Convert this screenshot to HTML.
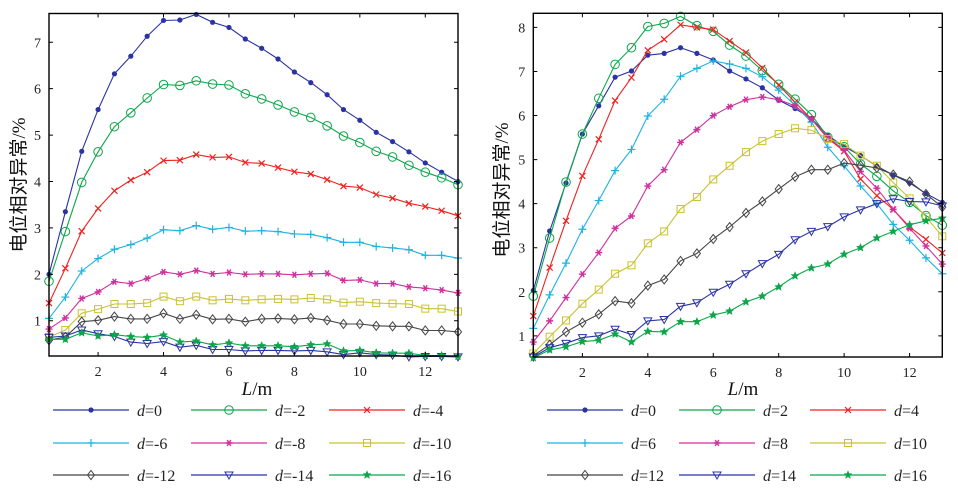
<!DOCTYPE html>
<html><head><meta charset="utf-8"><style>
html,body{margin:0;padding:0;background:#fff;}
svg{display:block;font-family:"Liberation Serif","Noto Serif CJK SC",serif;}
</style></head><body>
<svg id="chart" width="958" height="489" viewBox="0 0 958 489"></svg>
<script>
const xValues = [0.5,1,1.5,2,2.5,3,3.5,4,4.5,5,5.5,6,6.5,7,7.5,8,8.5,9,9.5,10,10.5,11,11.5,12,12.5,13];
const xTicks = [2,4,6,8,10,12];
const leftYTicks = [1,2,3,4,5,6,7];
const rightYTicks = [1,2,3,4,5,6,7,8];
const leftLabels = ["d=0","d=-2","d=-4","d=-6","d=-8","d=-10","d=-12","d=-14","d=-16"];
const rightLabels = ["d=0","d=2","d=4","d=6","d=8","d=10","d=12","d=14","d=16"];
const leftD0 = [2.0,3.35,4.65,5.55,6.32,6.7,7.13,7.47,7.48,7.6,7.43,7.32,7.07,6.87,6.64,6.36,6.13,5.87,5.55,5.32,5.06,4.86,4.64,4.4,4.2,4.0];
const leftD2 = [1.85,2.92,3.98,4.64,5.18,5.48,5.8,6.09,6.07,6.17,6.1,6.08,5.89,5.78,5.65,5.5,5.38,5.2,4.98,4.84,4.65,4.53,4.35,4.2,4.08,3.93];
const leftD4 = [1.38,2.13,2.93,3.42,3.8,4.03,4.2,4.45,4.46,4.58,4.52,4.53,4.41,4.39,4.3,4.21,4.16,4.04,3.9,3.87,3.72,3.64,3.53,3.46,3.37,3.26];
const leftD6 = [1.05,1.51,2.07,2.34,2.54,2.64,2.78,2.96,2.94,3.05,2.97,3.01,2.93,2.94,2.92,2.87,2.86,2.79,2.69,2.69,2.6,2.57,2.53,2.41,2.41,2.35];
const leftD8 = [0.82,1.06,1.48,1.62,1.84,1.8,1.91,2.05,2.0,2.08,2.01,2.04,2.0,2.01,2.01,1.99,2.01,2.02,1.87,1.88,1.8,1.8,1.73,1.7,1.66,1.6];
const leftD10 = [0.65,0.8,1.16,1.25,1.36,1.36,1.38,1.52,1.42,1.52,1.44,1.47,1.44,1.46,1.47,1.46,1.49,1.46,1.39,1.41,1.38,1.37,1.36,1.26,1.26,1.2];
const leftD12 = [0.58,0.65,0.98,1.01,1.09,1.04,1.04,1.16,1.04,1.13,1.03,1.04,0.98,1.04,1.05,1.03,1.06,1.01,0.93,0.93,0.89,0.88,0.88,0.79,0.79,0.76];
const leftD14 = [0.64,0.67,0.8,0.72,0.66,0.54,0.51,0.55,0.43,0.47,0.38,0.38,0.35,0.36,0.36,0.35,0.36,0.33,0.27,0.31,0.27,0.26,0.22,0.23,0.23,0.22];
const leftD16 = [0.6,0.6,0.74,0.67,0.7,0.66,0.64,0.69,0.54,0.56,0.48,0.52,0.46,0.46,0.46,0.44,0.48,0.5,0.35,0.36,0.31,0.3,0.3,0.25,0.25,0.23];
const rightD0 = [2.03,3.38,4.47,5.58,6.22,6.87,7.01,7.37,7.41,7.54,7.41,7.26,7.01,6.83,6.63,6.35,6.16,5.93,5.55,5.3,5.09,4.85,4.65,4.47,4.23,4.03];
const rightD2 = [1.9,3.22,4.49,5.58,6.39,7.16,7.54,8.02,8.09,8.25,8.04,7.91,7.6,7.35,7.02,6.71,6.37,6.02,5.51,5.29,4.9,4.62,4.29,4.03,3.73,3.51];
const rightD4 = [1.45,2.55,3.61,4.63,5.46,6.34,6.86,7.48,7.73,8.06,8.0,7.95,7.69,7.43,7.08,6.69,6.3,5.92,5.48,5.19,4.56,4.18,3.87,3.47,3.19,2.88];
const rightD6 = [1.17,1.93,2.65,3.42,4.07,4.75,5.23,5.99,6.37,6.89,7.07,7.24,7.17,7.07,6.88,6.58,6.23,5.85,5.28,4.86,4.4,4.0,3.53,3.17,2.77,2.41];
const rightD8 = [0.86,1.34,1.87,2.4,2.89,3.44,3.72,4.4,4.77,5.39,5.68,6.0,6.2,6.36,6.42,6.36,6.22,5.92,5.51,5.21,4.73,4.35,3.87,3.44,3.04,2.63];
const rightD10 = [0.6,0.98,1.35,1.73,2.05,2.41,2.6,3.1,3.37,3.88,4.15,4.55,4.86,5.17,5.42,5.58,5.71,5.67,5.47,5.35,5.09,4.86,4.48,4.12,3.7,3.26];
const rightD12 = [0.55,0.8,1.09,1.3,1.49,1.79,1.74,2.14,2.28,2.7,2.87,3.2,3.47,3.79,4.05,4.33,4.61,4.77,4.77,4.92,4.87,4.81,4.66,4.5,4.22,3.92];
const rightD14 = [0.52,0.73,0.83,0.96,1.0,1.15,1.03,1.34,1.37,1.67,1.75,1.99,2.17,2.41,2.64,2.85,3.18,3.37,3.48,3.7,3.86,4.0,4.11,4.05,4.04,3.95];
const rightD16 = [0.5,0.68,0.75,0.87,0.9,1.04,0.86,1.1,1.09,1.32,1.32,1.47,1.56,1.77,1.9,2.11,2.36,2.54,2.63,2.85,3.0,3.22,3.37,3.52,3.61,3.67];

const colors = ["#2a33a3","#0ba64a","#f0201e","#1db2e2","#d0309c","#c9c232","#454545","#2a33a3","#0ba64a"];
const markers = ["dot","circle","x","plus","star6","square","diamond","tri","pent"];
const NS = "http://www.w3.org/2000/svg";
const svg = document.getElementById("chart");
function mk(tag, attrs, parent){const e=document.createElementNS(NS,tag);for(const k in attrs)e.setAttribute(k,attrs[k]);(parent||svg).appendChild(e);return e;}

function marker(g,type,x,y,c){
  let e;
  if(type==="dot") e=mk("circle",{cx:x,cy:y,r:2.6,fill:c},g);
  else if(type==="circle") e=mk("circle",{cx:x,cy:y,r:4.3,fill:"none",stroke:c,"stroke-width":1},g);
  else if(type==="x") e=mk("path",{d:`M${x-3},${y-3}L${x+3},${y+3}M${x-3},${y+3}L${x+3},${y-3}`,stroke:c,"stroke-width":1.2,fill:"none"},g);
  else if(type==="plus") e=mk("path",{d:`M${x-4},${y}L${x+4},${y}M${x},${y-4}L${x},${y+4}`,stroke:c,"stroke-width":1.2,fill:"none"},g);
  else if(type==="star6") e=mk("path",{d:`M${x-3.5},${y}L${x+3.5},${y}M${x-1.8},${y-3}L${x+1.8},${y+3}M${x-1.8},${y+3}L${x+1.8},${y-3}`,stroke:c,"stroke-width":1.4,fill:"none"},g);
  else if(type==="square") e=mk("rect",{x:x-3.5,y:y-3.5,width:7,height:7,fill:"none",stroke:c,"stroke-width":1},g);
  else if(type==="diamond") e=mk("path",{d:`M${x},${y-4.5}L${x+3.5},${y}L${x},${y+4.5}L${x-3.5},${y}Z`,fill:"none",stroke:c,"stroke-width":1},g);
  else if(type==="tri") e=mk("path",{d:`M${x-4},${y-3}L${x+4},${y-3}L${x},${y+4}Z`,fill:"none",stroke:c,"stroke-width":1},g);
  else { let p=[];for(let i=0;i<10;i++){const r=i%2?1.8:4.2,a=-Math.PI/2+i*Math.PI/5;p.push((x+r*Math.cos(a)).toFixed(2)+","+(y+r*Math.sin(a)).toFixed(2));}
    e=mk("polygon",{points:p.join(" "),fill:c,stroke:c,"stroke-width":0.5},g);}
  
  
}

function panel(opt){
  const {id,x0,x1,y0,y1,ymin,ymax,yTicks,series,labels,legendX,ylabX,ylabY,xlabX} = opt;
  const sx=v=>x0+(v-0.5)/(13-0.5)*(x1-x0);
  const sy=v=>y1-(v-ymin)/(ymax-ymin)*(y1-y0);
  const g=mk("g",{});
  
  
  series.forEach((s,i)=>{
    const sg=mk("g",{},g);
    
    
    const pts=s.map((v,j)=>sx(xValues[j]).toFixed(1)+","+sy(v).toFixed(1)).join(" ");
    const pl=mk("polyline",{points:pts,fill:"none",stroke:colors[i],"stroke-width":1.1},sg);
    
    
    s.forEach((v,j)=>marker(sg,markers[i],sx(xValues[j]),sy(v),colors[i]));
  });
  const fr=mk("rect",{x:x0,y:y0,width:x1-x0,height:y1-y0,fill:"none",stroke:"#000","stroke-width":1.4},g);
  
  
  xTicks.forEach(t=>{
    const x=sx(t);
    mk("path",{d:`M${x},${y1}v-4M${x},${y0}v4`,stroke:"#000","stroke-width":1},g);
    const tx=mk("text",{x:x,y:y1+20,"font-size":14,"text-anchor":"middle",fill:"#222"},g);
    tx.textContent=t;
    
    
  });
  yTicks.forEach(t=>{
    const y=sy(t);
    mk("path",{d:`M${x0},${y}h4M${x1},${y}h-4`,stroke:"#000","stroke-width":1},g);
    const tx=mk("text",{x:x0-8,y:y+5,"font-size":14,"text-anchor":"end",fill:"#222"},g);
    tx.textContent=t;
    
    
  });
  const xl=mk("text",{x:xlabX,y:395,"font-size":19,"text-anchor":"middle",fill:"#111"},g);
  xl.innerHTML='<tspan font-style="italic">L</tspan>/m';
  
  
  const yl=mk("text",{x:ylabX,y:ylabY,"font-size":19,"text-anchor":"middle",fill:"#111",transform:`rotate(-90 ${ylabX} ${ylabY})`,"font-family":"'Liberation Serif','Noto Sans CJK SC',sans-serif"},g);
  yl.textContent="电位相对异常/%";
  
  
  // legend
  const rows=[410,443,475];
  labels.forEach((lab,i)=>{
    const r=Math.floor(i/3), c=i%3;
    const lx=legendX[c], ly=rows[r];
    const lg=mk("g",{},g);
    
    
    mk("line",{x1:lx,y1:ly,x2:lx+76,y2:ly,stroke:colors[i],"stroke-width":1.2},lg);
    marker(lg,markers[i],lx+38,ly,colors[i]);
    const t=mk("text",{x:lx+84,y:ly+6,"font-size":16,fill:"#222"},lg);
    t.innerHTML='<tspan font-style="italic">d</tspan>='+lab.slice(2);
  });
}

panel({id:"left",x0:49,x1:458,y0:13.5,y1:356,ymin:0.24,ymax:7.62,yTicks:leftYTicks,
  series:[leftD0,leftD2,leftD4,leftD6,leftD8,leftD10,leftD12,leftD14,leftD16],labels:leftLabels,
  legendX:[53,191,329],ylabX:25,ylabY:185,xlabX:257});
panel({id:"right",x0:533.3,x1:942.3,y0:13.3,y1:357,ymin:0.52,ymax:8.32,yTicks:rightYTicks,
  series:[rightD0,rightD2,rightD4,rightD6,rightD8,rightD10,rightD12,rightD14,rightD16],labels:rightLabels,
  legendX:[547,679,810],ylabX:508,ylabY:190,xlabX:743});
</script>
</body></html>
